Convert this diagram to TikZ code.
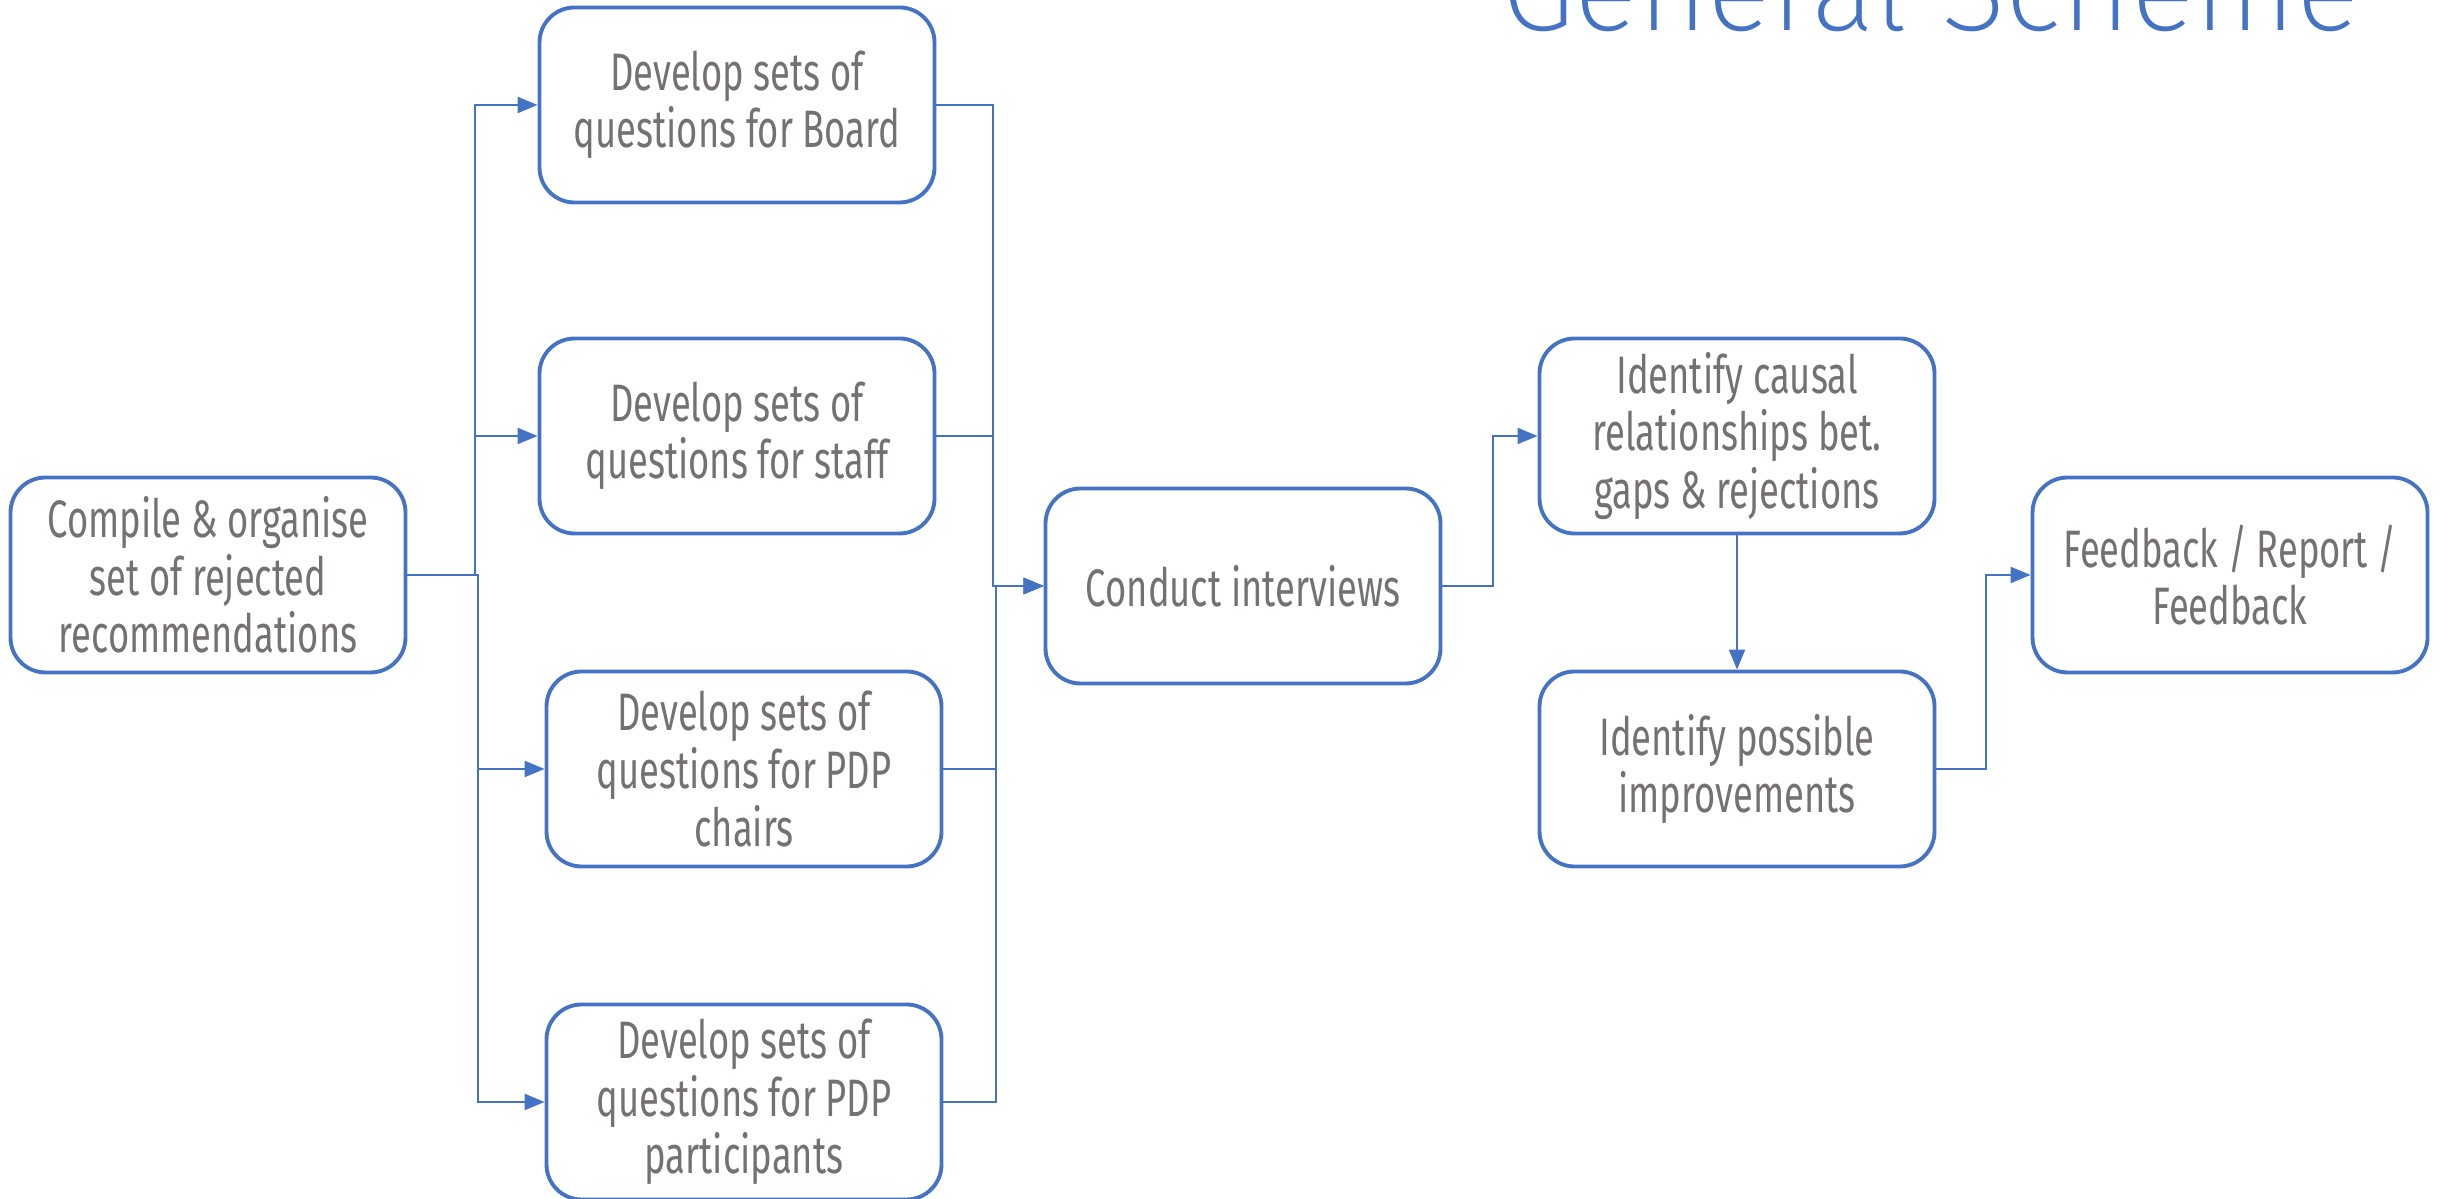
\documentclass[tikz,border=0pt]{standalone}
\usepackage{fontspec}
\usetikzlibrary{positioning,arrows.meta}
\newfontfamily\boxfont{Fira Sans}[FakeStretch=0.69]
\IfFontExistsTF{Fira Sans ExtraLight}{\newfontfamily\titlefont{Fira Sans ExtraLight}}{%
  \IfFontExistsTF{Fira Sans Light}{\newfontfamily\titlefont{Fira Sans Light}}{\newfontfamily\titlefont{Fira Sans}}}
\definecolor{schemeblue}{HTML}{4472C4}
\definecolor{textgray}{HTML}{767171}

\begin{document}
\begin{tikzpicture}[stepbox/.style={draw=schemeblue,line width=1.1pt,rounded corners=0.35cm,minimum width=3.95cm,minimum height=1.95cm,inner sep=2pt,align=center,text=textgray,font=\boxfont\fontsize{15}{16.4}\selectfont},
    link/.style={draw=schemeblue,line width=0.6pt,-{Triangle[length=0.2cm,width=0.16cm]}}]
      \useasboundingbox (0,0) rectangle (24.40,11.99);
      \node[anchor=base east,inner sep=0pt,text=schemeblue,font=\titlefont\fontsize{34}{34}\selectfont](title) at (23.61,11.68){General Scheme};
      \node[stepbox](compile) at (2.08,6.24){Compile \& organise\\set of rejected\\recommendations};
      \node[stepbox](board) at (7.37,10.94){Develop sets of\\questions for Board};
      \node[stepbox](staff) at (7.37,7.63){Develop sets of\\questions for staff};
      \node[stepbox](chairs) at (7.44,4.30){Develop sets of\\questions for PDP\\chairs};
      \node[stepbox](participants) at (7.44,0.97){Develop sets of\\questions for PDP\\participants};
      \node[stepbox](conduct) at (12.43,6.13){Conduct interviews};
      \node[stepbox](causal) at (17.37,7.63){Identify causal\\relationships bet.\\gaps \& rejections};
      \node[stepbox](possible) at (17.37,4.30){Identify possible\\improvements};
      \node[stepbox](feedback) at (22.30,6.24){Feedback / Report /\\Feedback};
      \draw[link] (compile.east) -- ++(0.675,0) |- (board.west);
      \draw[link] (compile.east) -- ++(0.675,0) |- (staff.west);
      \draw[link] (compile.east) -- ++(0.705,0) |- (chairs.west);
      \draw[link] (compile.east) -- ++(0.705,0) |- (participants.west);
      \draw[link] (board.east) -- ++(0.565,0) |- (conduct.west);
      \draw[link] (staff.east) -- ++(0.565,0) |- (conduct.west);
      \draw[link] (chairs.east) -- ++(0.525,0) |- (conduct.west);
      \draw[link] (participants.east) -- ++(0.525,0) |- (conduct.west);
      \draw[link] (conduct.east) -- ++(0.505,0) |- (causal.west);
      \draw[link] (causal.south) -- (possible.north);
      \draw[link] (possible.east) -- ++(0.495,0) |- (feedback.west);
    \end{tikzpicture}
\end{document}
